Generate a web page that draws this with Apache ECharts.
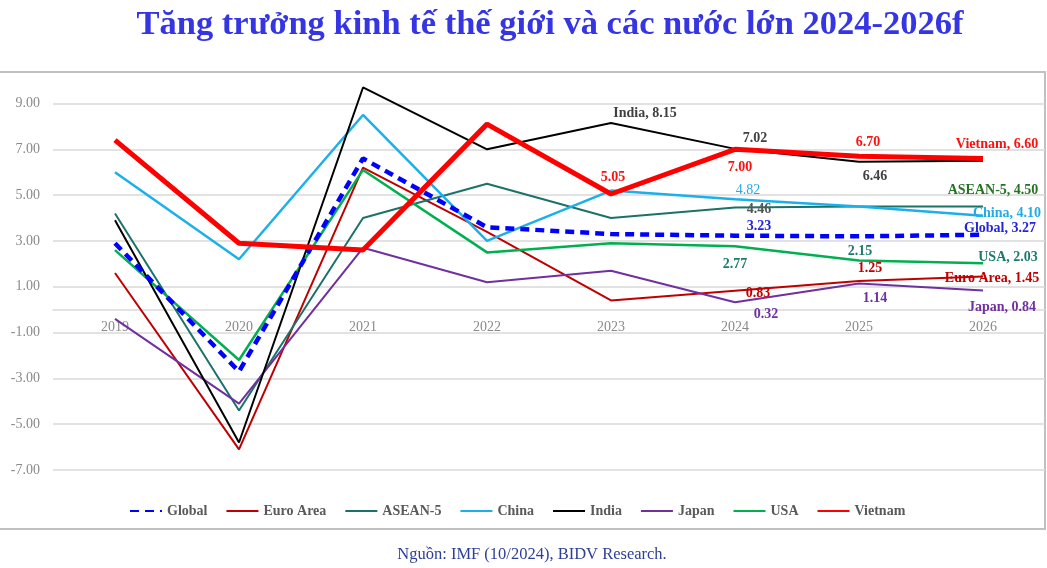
<!DOCTYPE html>
<html>
<head>
<meta charset="utf-8">
<script src="https://cdn.jsdelivr.net/npm/echarts@6/dist/echarts.min.js"></script>
<style>
html,body{margin:0;padding:0;background:#fff;}
#chart{width:1047px;height:568px;}
</style>
</head>
<body>
<div id="chart"></div>
<script>
// ---- data ----
const years = ['2019', '2020', '2021', '2022', '2023', '2024', '2025', '2026'];
const seriesNames = ['Global', 'Euro Area', 'ASEAN-5', 'China', 'India', 'Japan', 'USA', 'Vietnam'];
const globalGrowth  = [2.9, -2.7, 6.6, 3.6, 3.3, 3.23, 3.2, 3.27];
const euroArea      = [1.6, -6.1, 6.2, 3.4, 0.4, 0.83, 1.25, 1.45];
const asean5        = [4.2, -4.4, 4.0, 5.5, 4.0, 4.46, 4.5, 4.50];
const china         = [6.0, 2.2, 8.5, 3.0, 5.2, 4.82, 4.5, 4.10];
const india         = [3.9, -5.8, 9.7, 7.0, 8.15, 7.02, 6.46, 6.5];
const japan         = [-0.4, -4.1, 2.7, 1.2, 1.7, 0.32, 1.14, 0.84];
const usa           = [2.6, -2.2, 6.1, 2.5, 2.9, 2.77, 2.15, 2.03];
const vietnam       = [7.4, 2.9, 2.6, 8.1, 5.05, 7.00, 6.70, 6.60];
const yTicks = [-7, -5, -3, -1, 1, 3, 5, 7, 9];
const titleText = 'Tăng trưởng kinh tế thế giới và các nước lớn 2024-2026f';
const sourceText = 'Nguồn: IMF (10/2024), BIDV Research.';

// ---- styles ----
const SERIF = '"Liberation Serif","Times New Roman",serif';
const styles = {
  'Global':    {color: '#0000ff', width: 4.5, type: [9, 6], label: '#2424dc', z: 9},
  'Euro Area': {color: '#c00000', width: 2,   type: 'solid', label: '#c00000', z: 3},
  'ASEAN-5':   {color: '#1b7268', width: 2,   type: 'solid', label: '#555555', z: 3},
  'China':     {color: '#1bb0ea', width: 2.5, type: 'solid', label: '#22ace4', z: 4},
  'India':     {color: '#000000', width: 2,   type: 'solid', label: '#404040', z: 5},
  'Japan':     {color: '#7030a0', width: 2,   type: 'solid', label: '#7030a0', z: 3},
  'USA':       {color: '#00b050', width: 2.5, type: 'solid', label: '#1f7a6e', z: 3},
  'Vietnam':   {color: '#ff0000', width: 5,   type: 'solid', label: '#ff1010', z: 10}
};
// label placement: [index, offsetX, offsetY, withName, colorOverride, weight]
const labelSpec = {
  'Global':    [[5, 24, -9], [7, 17, -6, true]],
  'Euro Area': [[5, 23, 3], [6, 11, -13], [7, 9, 2, true]],
  'ASEAN-5':   [[5, 24, 2], [7, 10, -16, true, '#267326']],
  'China':     [[5, 13, -9, false, null, 'normal'], [7, 24, -2, true]],
  'India':     [[4, 34, -10, true], [5, 20, -10], [6, 16, 15]],
  'Japan':     [[5, 31, 12], [6, 16, 15], [7, 19, 17, true]],
  'USA':       [[5, 0, 18], [6, 1, -9], [7, 25, -6, true]],
  'Vietnam':   [[4, 2, -17], [5, 5, 18], [6, 9, -14], [7, 14, -14, true]]
};
const valuesByName = {
  'Global': globalGrowth, 'Euro Area': euroArea, 'ASEAN-5': asean5, 'China': china,
  'India': india, 'Japan': japan, 'USA': usa, 'Vietnam': vietnam
};

function buildData(name) {
  const vals = valuesByName[name];
  const st = styles[name];
  return vals.map((v, i) => {
    const spec = (labelSpec[name] || []).find(s => s[0] === i);
    if (!spec) return {value: v, label: {show: false}};
    const withName = spec[3];
    return {
      value: v,
      label: {
        show: true,
        position: [spec[1], spec[2]],
        align: 'center',
        verticalAlign: 'middle',
        formatter: withName ? (name + ', ' + v.toFixed(2)) : v.toFixed(2),
        color: spec[4] || st.label,
        fontFamily: SERIF,
        fontSize: 14,
        fontWeight: spec[5] || 'bold'
      }
    };
  });
}

const series = seriesNames.map(name => {
  const st = styles[name];
  return {
    name: name,
    type: 'line',
    data: buildData(name),
    symbol: 'circle',
    symbolSize: 0.01,
    showSymbol: true,
    color: st.color,
    itemStyle: {color: st.color},
    lineStyle: {color: st.color, width: st.width, type: st.type, cap: 'butt'},
    labelLayout: {hideOverlap: false},
    z: st.z,
    emphasis: {disabled: true},
    animation: false
  };
});

const chart = echarts.init(document.getElementById('chart'), null, {renderer: 'canvas'});
chart.setOption({
  backgroundColor: '#ffffff',
  animation: false,
  title: [{
    text: titleText,
    left: 545,
    textAlign: 'center',
    top: 3,
    textStyle: {fontFamily: SERIF, fontSize: 34.5, fontWeight: 'bold', color: '#3535e4'}
  }, {
    text: sourceText,
    left: 527,
    textAlign: 'center',
    top: 541,
    textStyle: {fontFamily: SERIF, fontSize: 16.5, fontWeight: 'normal', color: '#2e3f96'}
  }],
  graphic: [{
    type: 'rect',
    shape: {x: -3, y: 72, width: 1048, height: 457},
    style: {fill: 'none', stroke: '#c0c0c0', lineWidth: 2},
    silent: true,
    z: -10
  }],
  legend: {
    data: seriesNames,
    left: 124,
    top: 499,
    itemGap: 18,
    itemWidth: 32,
    itemHeight: 10,
    itemStyle: {opacity: 0},
    textStyle: {fontFamily: SERIF, fontSize: 14, fontWeight: 'bold', color: '#595959'}
  },
  grid: {left: 53, right: 2, top: 57.7, bottom: 98, containLabel: false},
  xAxis: {
    type: 'category',
    data: years,
    boundaryGap: true,
    position: 'bottom',
    offset: -160.3,
    axisLine: {onZero: false, lineStyle: {color: '#d9d9d9', width: 1.5}},
    axisTick: {show: false},
    axisLabel: {fontFamily: SERIF, fontSize: 14, color: '#8a8a8a', margin: 11},
    z: 1
  },
  yAxis: {
    type: 'value',
    min: yTicks[0],
    max: 11,
    interval: 2,
    axisLine: {show: false},
    axisTick: {show: false},
    axisLabel: {
      fontFamily: SERIF, fontSize: 14, color: '#8a8a8a', margin: 13,
      formatter: v => (yTicks.indexOf(v) >= 0 ? v.toFixed(2) : '')
    },
    splitLine: {lineStyle: {color: ['#d9d9d9','#d9d9d9','#d9d9d9','#d9d9d9','#d9d9d9','#d9d9d9','#d9d9d9','#d9d9d9','#d9d9d9','rgba(0,0,0,0)'], width: 1.5}}
  },
  series: series
});
</script>
</body>
</html>
